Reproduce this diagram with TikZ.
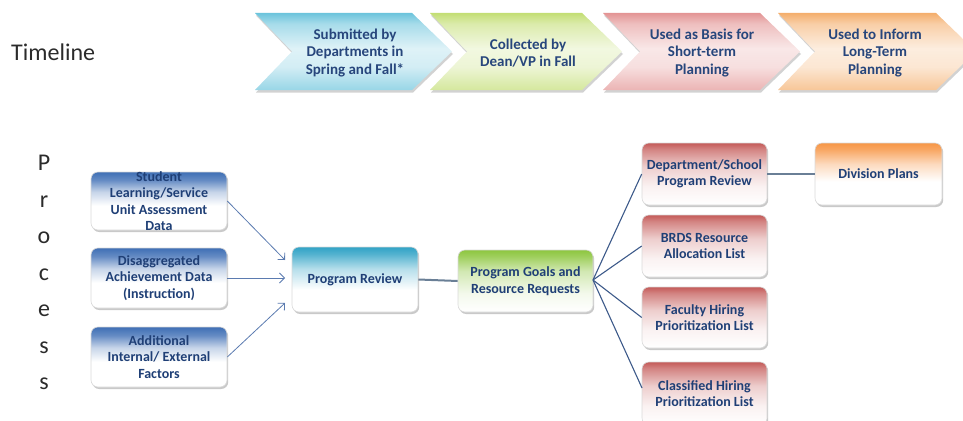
\documentclass[tikz,border=0pt]{standalone}
\usepackage{fontspec}
\setmainfont{Carlito}
\usetikzlibrary{shadows,arrows.meta}

\definecolor{txt}{HTML}{1F3F76}
\definecolor{ctxt}{HTML}{27467C}
\definecolor{gtxt}{HTML}{2B2B2B}
\definecolor{cblue}{HTML}{6CC4DC}
\definecolor{cgreen}{HTML}{C3DE74}
\definecolor{cred}{HTML}{E39494}
\definecolor{corange}{HTML}{F4AE6C}
\definecolor{bblue}{HTML}{3F6FB5}
\definecolor{bteal}{HTML}{31A3C6}
\definecolor{bgreen}{HTML}{8DC63F}
\definecolor{bred}{HTML}{C45A58}
\definecolor{borange}{HTML}{F79646}
\definecolor{arrc}{HTML}{5B7BB0}
\definecolor{linec}{HTML}{3D5A8A}
\definecolor{thickc}{HTML}{6A7F96}

% chevron shadings
\pgfdeclareverticalshading{chblue}{100bp}{color(0bp)=(cblue!70); color(25bp)=(cblue!70); color(40bp)=(cblue!30); color(52bp)=(cblue!22); color(68bp)=(cblue!60); color(75bp)=(cblue); color(100bp)=(cblue)}
\pgfdeclareverticalshading{chgreen}{100bp}{color(0bp)=(cgreen!70); color(25bp)=(cgreen!70); color(40bp)=(cgreen!30); color(52bp)=(cgreen!22); color(68bp)=(cgreen!60); color(75bp)=(cgreen); color(100bp)=(cgreen)}
\pgfdeclareverticalshading{chred}{100bp}{color(0bp)=(cred!70); color(25bp)=(cred!70); color(40bp)=(cred!30); color(52bp)=(cred!22); color(68bp)=(cred!60); color(75bp)=(cred); color(100bp)=(cred)}
\pgfdeclareverticalshading{chorange}{100bp}{color(0bp)=(corange!70); color(25bp)=(corange!70); color(40bp)=(corange!30); color(52bp)=(corange!22); color(68bp)=(corange!60); color(75bp)=(corange); color(100bp)=(corange)}
% box shadings
\pgfdeclareverticalshading{bxblue}{100bp}{color(0bp)=(white); color(25bp)=(white); color(46bp)=(white); color(58bp)=(bblue!30); color(68bp)=(bblue!80); color(75bp)=(bblue); color(100bp)=(bblue)}
\pgfdeclareverticalshading{bxteal}{100bp}{color(0bp)=(white); color(25bp)=(white); color(42bp)=(white); color(58bp)=(bteal!35); color(70bp)=(bteal!85); color(75bp)=(bteal); color(100bp)=(bteal)}
\pgfdeclareverticalshading{bxgreen}{100bp}{color(0bp)=(white); color(25bp)=(white); color(40bp)=(bgreen!10); color(58bp)=(bgreen!40); color(70bp)=(bgreen!85); color(75bp)=(bgreen); color(100bp)=(bgreen)}
\pgfdeclareverticalshading{bxred}{100bp}{color(0bp)=(white); color(25bp)=(white); color(40bp)=(bred!8); color(56bp)=(bred!30); color(70bp)=(bred!75); color(75bp)=(bred); color(100bp)=(bred)}
\pgfdeclareverticalshading{bxorange}{100bp}{color(0bp)=(white); color(25bp)=(white); color(44bp)=(white); color(58bp)=(borange!35); color(70bp)=(borange!85); color(75bp)=(borange); color(100bp)=(borange)}

\begin{document}
\begin{tikzpicture}[x=1pt,y=-1pt,
  boxbase/.style={rounded corners=7pt, draw=black!15, line width=.6pt,
     drop shadow={shadow xshift=1.2pt,shadow yshift=-2pt,opacity=.3,fill=black!70},
     align=center, text=txt, inner sep=2pt,
     font=\bfseries\fontsize{14}{16.5}\selectfont},
  inbox/.style={boxbase, shading=bxblue, minimum width=136pt, minimum height=60pt},
  prbox/.style={boxbase, shading=bxteal, minimum width=126pt, minimum height=65pt},
  goalbox/.style={boxbase, shading=bxgreen, minimum width=135pt, minimum height=62pt},
  listbox/.style={boxbase, shading=bxred, minimum width=125pt, minimum height=62pt},
  planbox/.style={boxbase, shading=bxorange, minimum width=127pt, minimum height=62pt},
  boxtext/.style={align=center, text=txt, inner sep=0pt, font=\bfseries\fontsize{14}{16.5}\selectfont},
  chev/.style={drop shadow={shadow xshift=1pt,shadow yshift=-2.5pt,opacity=.25,fill=black!70}},
  chevtext/.style={align=center, text=ctxt, inner sep=0pt, font=\bfseries\fontsize{15}{17.5}\selectfont},
  inarrow/.style={draw=arrc, line width=.8pt, -{Straight Barb[length=5pt,width=10pt]}},
  fanline/.style={draw=linec, line width=1.1pt},
  thickline/.style={draw=thickc, line width=2pt}
]
\useasboundingbox (0,0) rectangle (963,420);

% Timeline label
\node[anchor=base west, inner sep=0pt, text=gtxt, font=\fontsize{24}{28}\selectfont] (tl) at (11,60) {Timeline};

% Chevrons
\path[chev, shading=chblue] (255,13) -- (412,13) -- (452,51.5) -- (412,90) -- (255,90) -- (292,51.5) -- cycle;
\path[chev, shading=chgreen] (430,13) -- (582,13) -- (622,51.5) -- (582,90) -- (430,90) -- (467,51.5) -- cycle;
\path[chev, shading=chred] (603,13) -- (760,13) -- (800,51.5) -- (760,90) -- (603,90) -- (640,51.5) -- cycle;
\path[chev, shading=chorange] (778,13) -- (936,13) -- (976,51.5) -- (936,90) -- (778,90) -- (815,51.5) -- cycle;

\node[chevtext] (c1) at (355,53) {Submitted by\\Departments in\\Spring and Fall*};
\node[chevtext] (c2) at (528,53) {Collected by\\Dean/VP in Fall};
\node[chevtext] (c3) at (702,53) {Used as Basis for\\Short-term\\Planning};
\node[chevtext] (c4) at (875,53) {Used to Inform\\Long-Term\\Planning};

% Process label
\node[anchor=north, inner sep=0pt, text=gtxt, align=center, font=\fontsize{24}{36.5}\selectfont] (proc) at (44,155) {P\\r\\o\\c\\e\\s\\s};

% Input boxes
\node[inbox, minimum height=58pt] (s1) at (159,201) {};
\node[boxtext] (s1t) at (159,201) {Student\\Learning/Service\\Unit Assessment\\Data};
\node[inbox] (s2) at (159,278) {Disaggregated\\Achievement Data\\(Instruction)};
\node[inbox] (s3) at (159,357) {Additional\\Internal/ External\\Factors};

% Program review
\node[prbox] (pr) at (355,279.5) {Program Review};

% Goals
\node[goalbox] (goals) at (525.5,281) {Program Goals and\\Resource Requests};

% Lists
\node[listbox] (r1) at (704.5,174) {Department/School\\Program Review};
\node[listbox] (r2) at (704.5,246) {BRDS Resource\\Allocation List};
\node[listbox, minimum height=61pt] (r3) at (704.5,317.5) {Faculty Hiring\\Prioritization List};
\node[listbox, minimum height=63pt] (r4) at (704.5,393.5) {Classified Hiring\\Prioritization List};

% Division plans
\node[planbox] (dp) at (878.5,174) {Division Plans};

% Connectors
\coordinate (e1) at (285,260);
\coordinate (e2) at (285,278);
\coordinate (e3) at (285,303);
\coordinate (g4) at (642,388);
\draw[inarrow] (s1.east) -- (e1);
\draw[inarrow] (s2.east) -- (e2);
\draw[inarrow] (s3.east) -- (e3);

\draw[thickline] (pr.east) -- (goals.west);

\coordinate (gs) at (593,280);
\draw[fanline] (gs) -- (r1.west);
\draw[fanline] (gs) -- (r2.west);
\draw[fanline] (gs) -- (r3.west);
\draw[fanline] (gs) -- (g4);

\draw[thickline] (r1.east) -- (dp.west);
\end{tikzpicture}
\end{document}
